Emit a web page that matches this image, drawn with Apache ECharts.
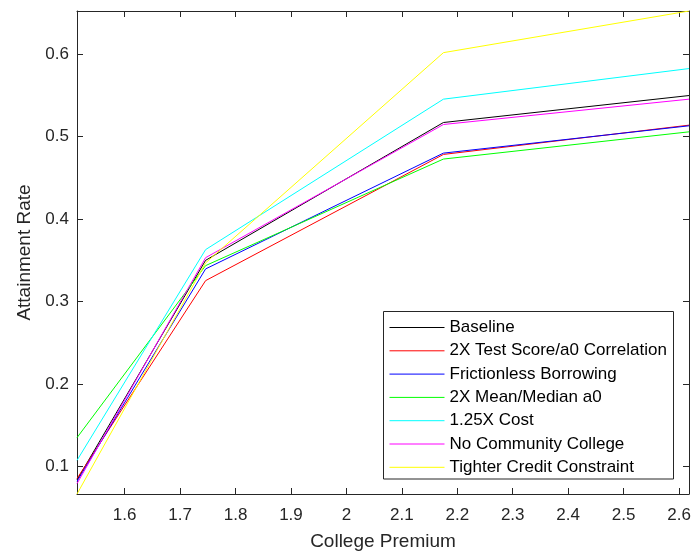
<!DOCTYPE html>
<html>
<head>
<meta charset="utf-8">
<script src="https://cdn.jsdelivr.net/npm/echarts@6/dist/echarts.min.js"></script>
<style>
html,body{margin:0;padding:0;background:#fff;}
#chart{width:695px;height:559px;}
</style>
</head>
<body>
<div id="chart"></div>
<script>
// ---- data ----
var premium = [1.514, 1.746, 2.175, 2.618];
var seriesNames = ['Baseline', '2X Test Score/a0 Correlation', 'Frictionless Borrowing', '2X Mean/Median a0', '1.25X Cost', 'No Community College', 'Tighter Credit Constraint'];
var baseline     = [0.0838, 0.3501, 0.5172, 0.5499];
var testScore2x  = [0.0855, 0.3255, 0.4785, 0.5140];
var frictionless = [0.0822, 0.3397, 0.4801, 0.5132];
var meanMedian2x = [0.1351, 0.3437, 0.4729, 0.5059];
var cost125x     = [0.1076, 0.3631, 0.5455, 0.5826];
var noCC         = [0.0794, 0.3533, 0.5148, 0.5455];
var tighter      = [0.0668, 0.3470, 0.6019, 0.6524];
var xTicks = [1.6, 1.7, 1.8, 1.9, 2, 2.1, 2.2, 2.3, 2.4, 2.5, 2.6];
var yTicks = [0.1, 0.2, 0.3, 0.4, 0.5, 0.6];
var xRange = [1.514, 2.618];
var yRange = [0.0668, 0.6524];

// ---- chart ----
var allValues = [baseline, testScore2x, frictionless, meanMedian2x, cost125x, noCC, tighter];
var colors = ['#000000', '#ff0000', '#0000ff', '#00ff00', '#00ffff', '#ff00ff', '#ffff00'];
var FONT = 'Liberation Sans, Arial, Helvetica, sans-serif';
var AX = '#262626';

function pairs(vals) {
  return vals.map(function (v, i) { return [premium[i], v]; });
}

var series = allValues.map(function (vals, i) {
  return {
    name: seriesNames[i],
    type: 'line',
    data: pairs(vals),
    symbol: 'none',
    showSymbol: false,
    lineStyle: { color: colors[i], width: 1 },
    itemStyle: { color: colors[i] },
    emphasis: { disabled: true },
    animation: false,
    xAxisIndex: 0,
    yAxisIndex: 0
  };
});

function fmt(v) { return String(Math.round(v * 10) / 10); }

var chart = echarts.init(document.getElementById('chart'), null, { renderer: 'canvas' });
chart.setOption({
  animation: false,
  backgroundColor: '#ffffff',
  textStyle: { fontFamily: FONT },
  grid: { left: 77, right: 6, top: 11, bottom: 65, containLabel: false },
  xAxis: [{
    type: 'value', min: xRange[0], max: xRange[1], position: 'bottom',
    name: 'College Premium', nameLocation: 'middle', nameGap: 38,
    nameTextStyle: { fontSize: 19, color: AX, fontFamily: FONT },
    axisLine: { show: true, onZero: false, lineStyle: { color: AX, width: 1 } },
    axisTick: { show: true, inside: true, length: 6, customValues: xTicks, lineStyle: { color: AX } },
    axisLabel: { show: true, customValues: xTicks, margin: 13, fontSize: 17, color: AX, fontFamily: FONT, formatter: fmt },
    splitLine: { show: false }
  }, {
    type: 'value', min: xRange[0], max: xRange[1], position: 'top',
    axisLine: { show: true, onZero: false, lineStyle: { color: AX, width: 1 } },
    axisTick: { show: true, inside: true, length: 6, customValues: xTicks, lineStyle: { color: AX } },
    axisLabel: { show: false },
    splitLine: { show: false }
  }],
  yAxis: [{
    type: 'value', min: yRange[0], max: yRange[1], position: 'left',
    name: 'Attainment Rate', nameLocation: 'middle', nameGap: 40, nameRotate: 90,
    nameTextStyle: { fontSize: 19, color: AX, fontFamily: FONT },
    axisLine: { show: true, onZero: false, lineStyle: { color: AX, width: 1 } },
    axisTick: { show: true, inside: true, length: 6, customValues: yTicks, lineStyle: { color: AX } },
    axisLabel: { show: true, customValues: yTicks, margin: 8, fontSize: 17, color: AX, fontFamily: FONT, formatter: fmt },
    splitLine: { show: false }
  }, {
    type: 'value', min: yRange[0], max: yRange[1], position: 'right',
    axisLine: { show: true, onZero: false, lineStyle: { color: AX, width: 1 } },
    axisTick: { show: true, inside: true, length: 6, customValues: yTicks, lineStyle: { color: AX } },
    axisLabel: { show: false },
    splitLine: { show: false }
  }],
  legend: {
    orient: 'vertical',
    left: 389, top: 319,
    padding: 0,
    itemWidth: 55, itemHeight: 17, itemGap: 6.3,
    z: 20,
    selectedMode: false,
    itemStyle: { opacity: 0, borderWidth: 0 },
    lineStyle: { width: 1 },
    textStyle: { fontSize: 17, color: '#000', fontFamily: FONT },
    data: seriesNames
  },
  graphic: {
    elements: [{
      type: 'rect', z: 10,
      shape: { x: 383.5, y: 311.5, width: 290, height: 167.5 },
      style: { fill: '#ffffff', stroke: AX, lineWidth: 1 }
    }]
  },
  series: series
});
</script>
</body>
</html>
